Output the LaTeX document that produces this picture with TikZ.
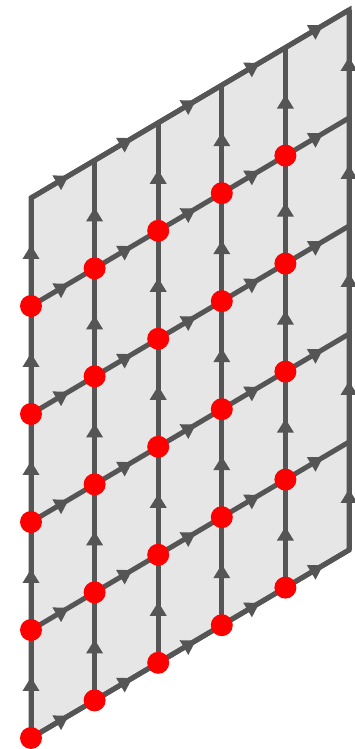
\documentclass[tikz,border=0pt]{standalone}
\usepackage{tikz}
\usetikzlibrary{arrows.meta,decorations.markings}
\definecolor{edgegray}{HTML}{555555}
\definecolor{sheetgray}{HTML}{E6E6E6}
\tikzset{
 edge/.style={draw=edgegray,line width=5pt},
 midarrow/.style={decoration={markings,mark=at position .5 with {\arrow[xshift=7pt]{Triangle[length=14pt,width=16pt]}}},postaction={decorate}},
 site/.style={circle,fill=red,inner sep=0pt,minimum size=22pt}
}

\begin{document}
\begin{tikzpicture}[x=1pt,y=1pt]
\useasboundingbox (0,0) rectangle (355,749);
\foreach \i in {0,...,5}
 \foreach \j in {0,...,5}
  \coordinate (v\i\j) at ({31+63.6*\i},{11+37.6*\i+108*\j});
\fill[sheetgray] (v00)--(v50)--(v55)--(v05)--cycle;
\draw[edge] (v00)--(v50)--(v55)--(v05)--cycle;
\foreach \i in {0,...,5}
 \foreach \j [count=\k] in {0,...,4}
  \draw[edge,midarrow] (v\i\j)--(v\i\k);
\foreach \j in {0,...,5}
 \foreach \i [count=\k] in {0,...,4}
  \draw[edge,midarrow] (v\i\j)--(v\k\j);
\foreach \i in {0,...,4}
 \foreach \j in {0,...,4}
  \node[site] (s\i\j) at (v\i\j) {};
\end{tikzpicture}
\end{document}
